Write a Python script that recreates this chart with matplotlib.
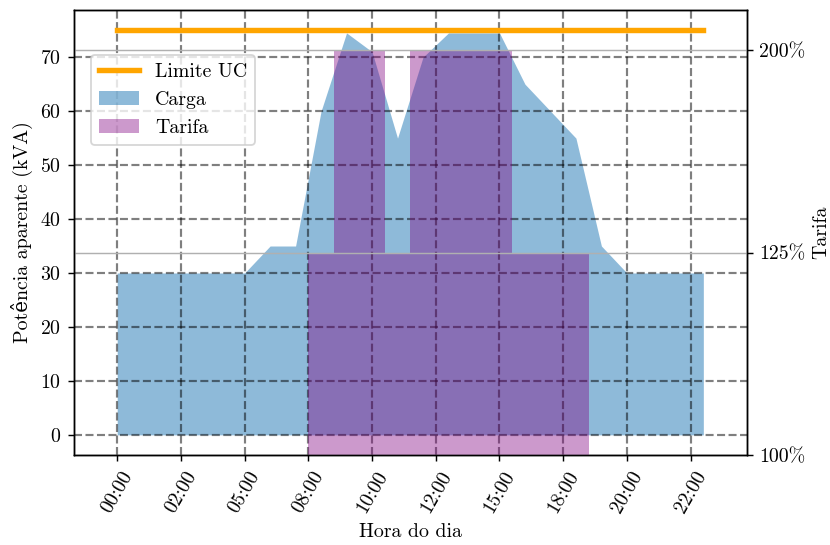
import matplotlib
matplotlib.use("Agg")
import matplotlib.pyplot as plt
from matplotlib.patches import Patch
from matplotlib.lines import Line2D

plt.rcParams['font.family'] = ['cmr10', 'DejaVu Serif']
plt.rcParams['font.size'] = 11
plt.rcParams['axes.formatter.use_mathtext'] = True

# hourly load profile (kVA) and tariff level per hour (0 -> 100%, 1 -> 125%, 2 -> 200%)
horas = list(range(24))
carga = [30, 30, 30, 30, 30, 30, 35, 35, 60, 74.5, 71, 55,
         70, 74.5, 74.5, 74.5, 65, 60, 55, 35, 30, 30, 30, 30]
tarifa = [0, 0, 0, 0, 0, 0, 0, 0, 1, 2, 2, 1,
          2, 2, 2, 2, 1, 1, 1, 0, 0, 0, 0, 0]
limite_uc = 75

xticks = [0, 2.5, 5, 7.5, 10, 12.5, 15, 17.5, 20, 22.5]
xlabels = ['00:00', '02:00', '05:00', '08:00', '10:00',
           '12:00', '15:00', '18:00', '20:00', '22:00']
tarifa_ticks = [0, 1, 2]
tarifa_labels = ['100%', '125%', '200%']

fig, ax1 = plt.subplots(figsize=(830 / 130, 545 / 130), dpi=130)
fig.subplots_adjust(left=0.089, right=0.8996, bottom=0.165, top=0.9817)

ax1.plot(horas, [limite_uc] * len(horas), color='orange', lw=3)
ax1.fill_between(horas, carga, color='C0', alpha=0.5, lw=0)
ax1.grid(True, linestyle='--', color='k', alpha=0.5, lw=1.2)
ax1.set_xticks(xticks)
ax1.set_xticklabels(xlabels, rotation=60)
ax1.set_xlabel('Hora do dia')
ax1.set_ylabel('Potência aparente (kVA)')

ax2 = ax1.twinx()
ax2.bar(horas, tarifa, width=1.0, color='purple', alpha=0.4)
ax2.set_ylim(0, 2.2)
ax2.set_yticks(tarifa_ticks)
ax2.set_yticklabels(tarifa_labels)
ax2.set_ylabel('Tarifa')
ax2.grid(True, axis='y')

handles = [Line2D([], [], color='orange', lw=3),
           Patch(color='C0', alpha=0.5, lw=0),
           Patch(color='purple', alpha=0.4, lw=0)]
ax2.legend(handles, ['Limite UC', 'Carga', 'Tarifa'],
           loc='upper left', bbox_to_anchor=(0.026, 0.899), borderaxespad=0)

fig.savefig('out.png', dpi=130)
